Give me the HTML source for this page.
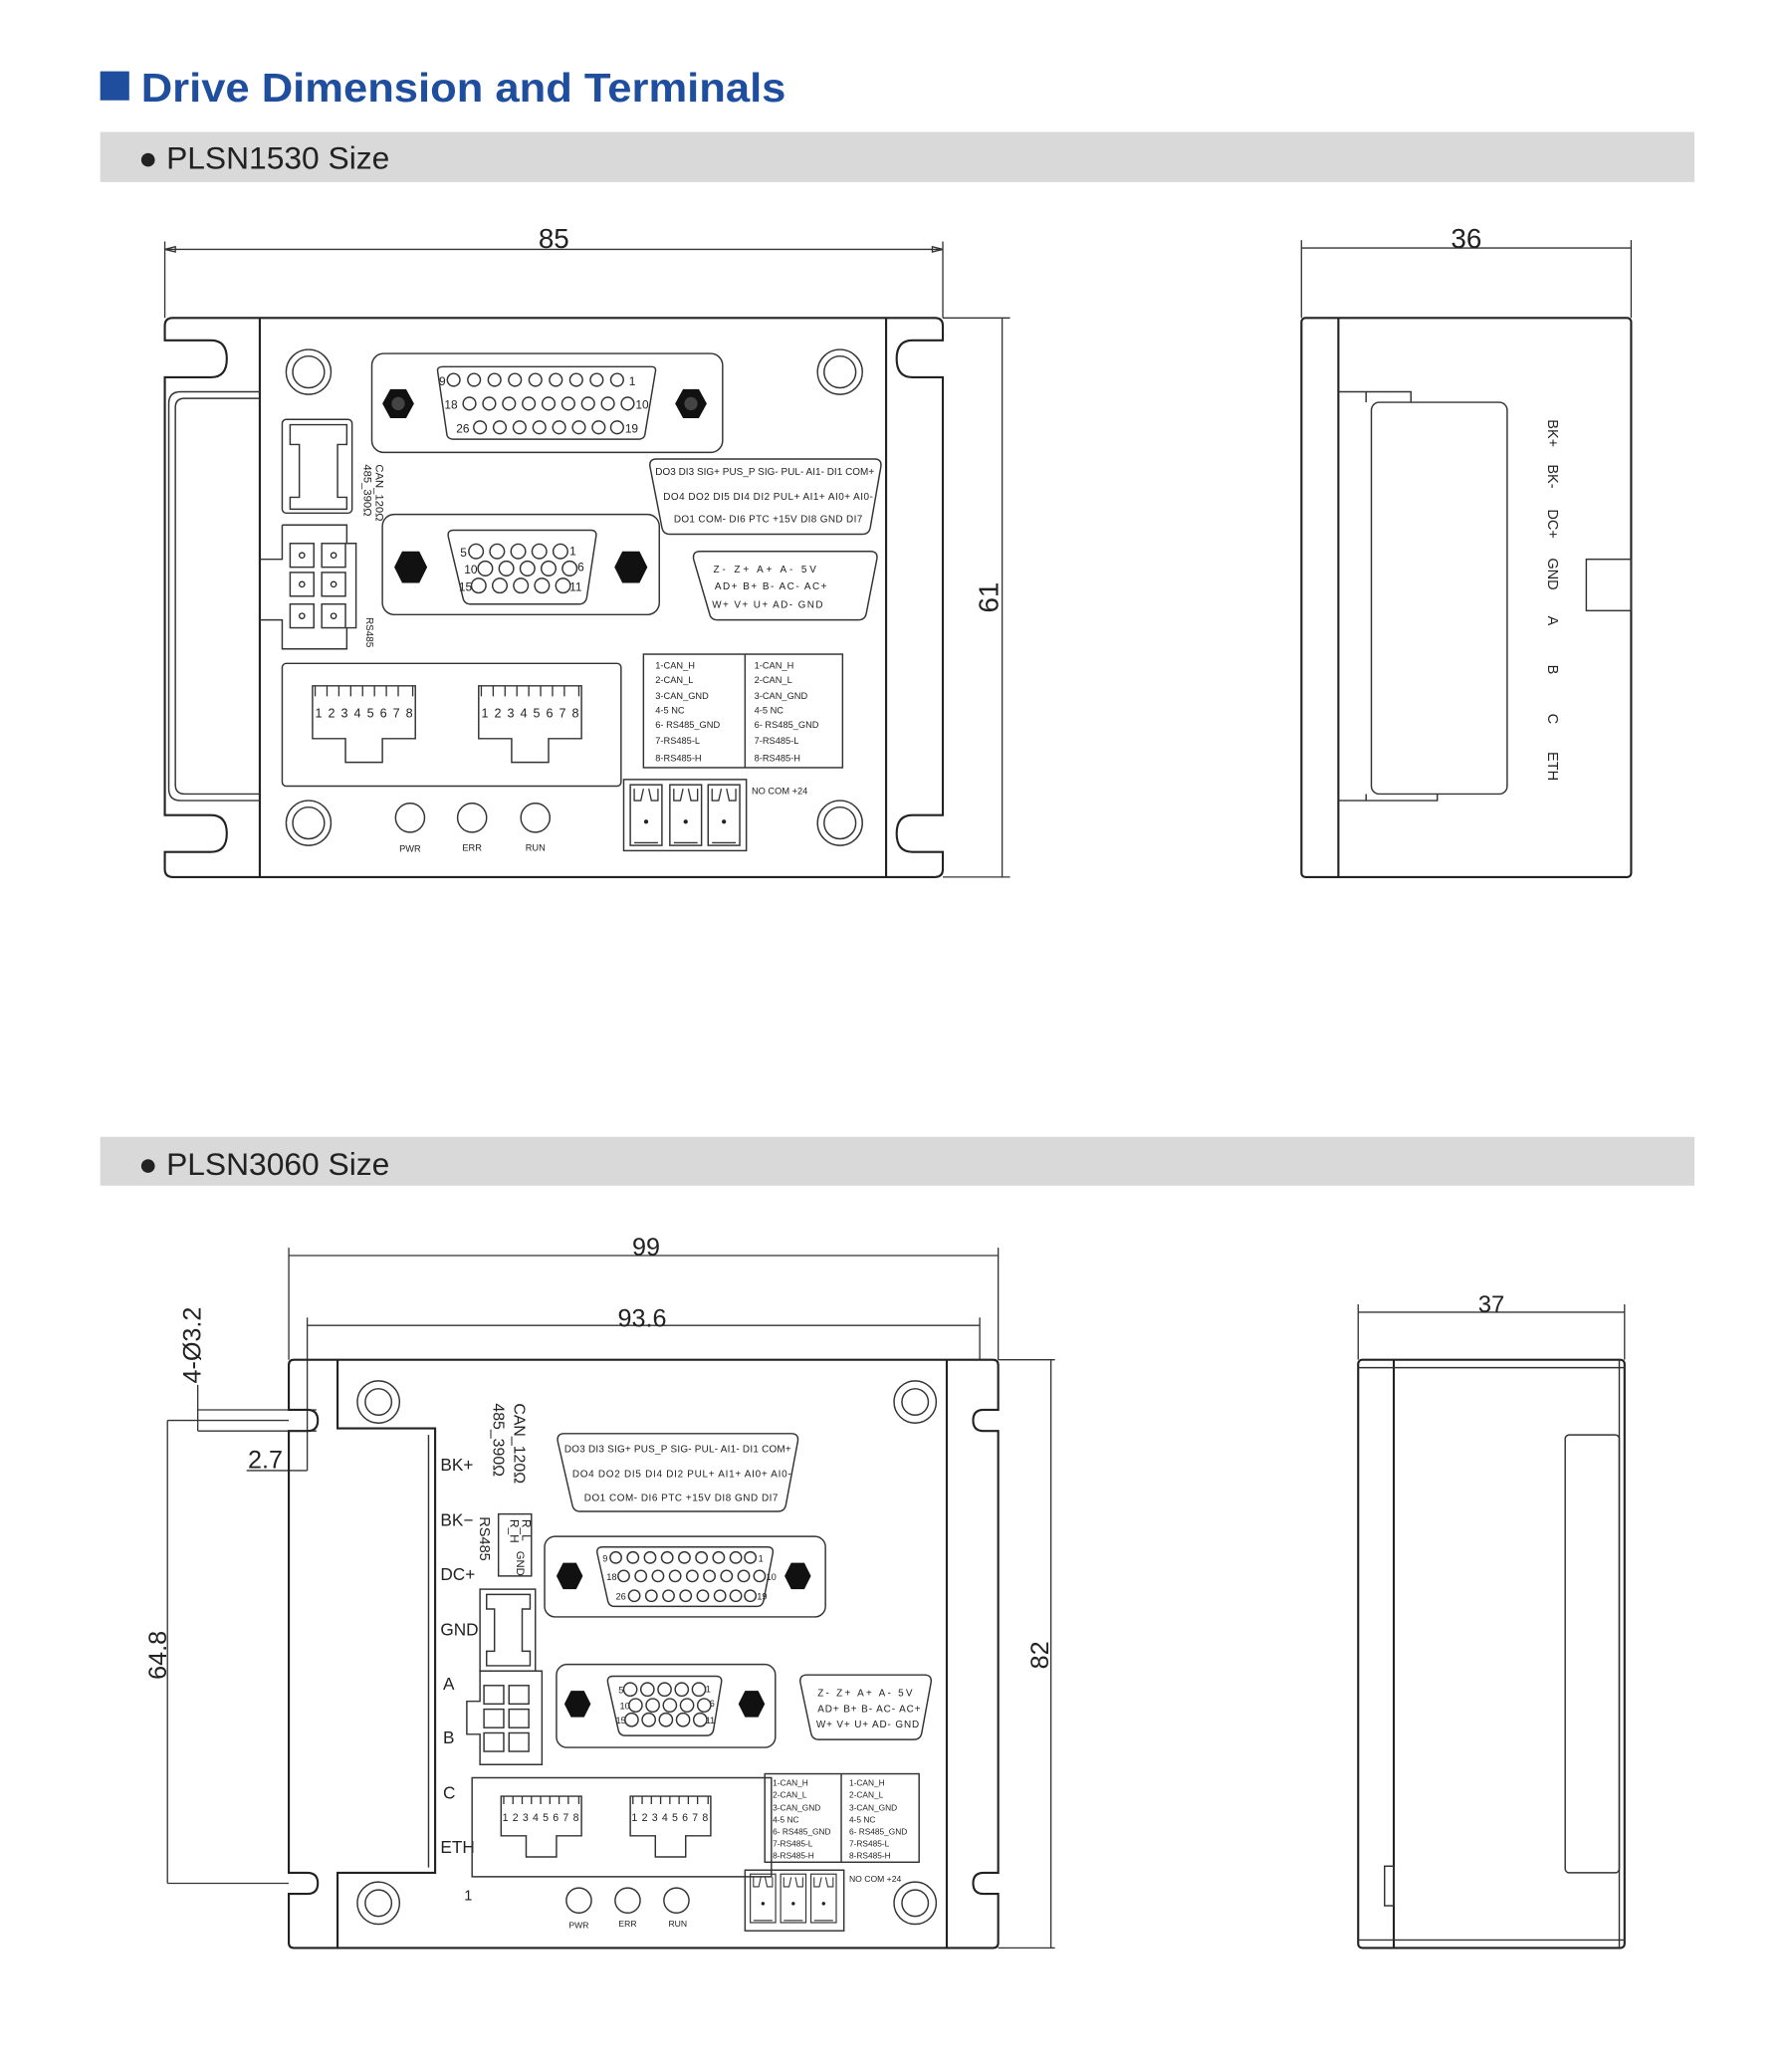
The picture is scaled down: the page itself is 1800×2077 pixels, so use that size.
<!DOCTYPE html>
<html><head><meta charset="utf-8"><style>
html,body{margin:0;padding:0;background:#fff;}
svg{display:block;}
text{font-family:"Liberation Sans",Arial,sans-serif;fill:#222;}
.s{fill:none;stroke:#222;stroke-width:1.6;}
.t{fill:none;stroke:#333;stroke-width:1.1;}
.d{fill:none;stroke:#333;stroke-width:1;}
.sm{font-size:7.5px;}
.lb{font-size:8.5px;}
</style></head><body>
<svg width="1800" height="2077" viewBox="0 0 1359 1568" xmlns="http://www.w3.org/2000/svg">
<defs>
<g id="rj">
<path class="t" d="M0 0H78V40H53V58H25V40H0Z"/>
<path class="d" d="M2 0V8M11 0V8M20 0V8M29 0V8M38 0V8M47 0V8M56 0V8M65 0V8M76 0V8"/>
</g>
<g id="rj2">
<path class="t" d="M0 0H61V30H42V46H19V30H0Z"/>
<path class="d" d="M2 0V6M9 0V6M16 0V6M23 0V6M30 0V6M37 0V6M44 0V6M51 0V6M59 0V6"/>
</g>
<g id="plug">
<rect class="t" x="0" y="0" width="24" height="46"/>
<path class="d" d="M3 3V12H8L10 3M21 3V12H16L14 3M3 44H21"/>
<circle cx="12" cy="28" r="1.6" fill="#222"/>
</g>
<g id="mh"><circle class="t" r="17"/><circle class="t" r="12"/></g>
<g id="mh2"><circle class="t" r="16"/><circle class="t" r="10"/></g>
</defs>

<!-- Title -->
<rect x="76" y="54" width="22" height="22" fill="#1f4e9e"/>
<text x="107" y="77" textLength="489" lengthAdjust="spacingAndGlyphs" style="font-size:31px;font-weight:bold;fill:#1f4e9e">Drive Dimension and Terminals</text>
<rect x="76" y="100" width="1209" height="38" fill="#d9d9d9"/>
<text x="105" y="128" style="font-size:24px">● PLSN1530 Size</text>
<rect x="76" y="862" width="1209" height="37" fill="#d9d9d9"/>
<text x="105" y="891" style="font-size:24px">● PLSN3060 Size</text>

<!-- ===== Drawing 1 front ===== -->
<path class="d" d="M125 183V241M715 183V241M125 189H715"/>
<path class="d" d="M125 189l8-2v4zM715 189l-8-2v4z" fill="#333"/>
<text x="420" y="188" style="font-size:21px" text-anchor="middle">85</text>
<path class="d" d="M715 241H766M715 665H766M760 241V665"/>
<text x="0" y="0" style="font-size:21px" text-anchor="middle" transform="translate(757 453) rotate(-90)">61</text>

<path class="s" d="M131 241H709q6 0 6 6V258H692q-12 0-12 14q0 14 12 14H715V618H692q-12 0-12 14q0 14 12 14H715V659q0 6-6 6H131q-6 0-6-6V646H160q12 0 12-14q0-14-12-14H125V286H160q12 0 12-14q0-14-12-14H125V247q0-6 6-6Z"/>
<path class="s" d="M197 241V665M672 241V665"/>
<path class="t" d="M197 297H137q-9 0-9 9V598q0 9 9 9H197M197 302H140q-7 0-7 7V595q0 7 7 7H197"/>
<use href="#mh" x="234" y="282"/><use href="#mh" x="637" y="282"/>
<use href="#mh" x="234" y="624"/><use href="#mh" x="637" y="624"/>

<!-- DB26 -->
<rect class="t" x="282" y="268" width="266" height="75" rx="9"/>
<path class="t" d="M336 278H494q4 0 3 4L489 330q-1 3-5 3H344q-4 0-5-3L332 282q-1-4 4-4Z"/>
<polygon points="290,306 296,295 308,295 314,306 308,317 296,317" fill="#111"/>
<polygon points="512,306 518,295 530,295 536,306 530,317 518,317" fill="#111"/>
<circle cx="302" cy="306" r="5" fill="#444"/><circle cx="524" cy="306" r="5" fill="#444"/>
<g class="t">
<circle cx="344" cy="288" r="4.8"/><circle cx="359.5" cy="288" r="4.8"/><circle cx="375" cy="288" r="4.8"/><circle cx="390.5" cy="288" r="4.8"/><circle cx="406" cy="288" r="4.8"/><circle cx="421.5" cy="288" r="4.8"/><circle cx="437" cy="288" r="4.8"/><circle cx="452.5" cy="288" r="4.8"/><circle cx="468" cy="288" r="4.8"/>
<circle cx="356" cy="306" r="4.8"/><circle cx="371" cy="306" r="4.8"/><circle cx="386" cy="306" r="4.8"/><circle cx="401" cy="306" r="4.8"/><circle cx="416" cy="306" r="4.8"/><circle cx="431" cy="306" r="4.8"/><circle cx="446" cy="306" r="4.8"/><circle cx="461" cy="306" r="4.8"/><circle cx="476" cy="306" r="4.8"/>
<circle cx="364" cy="324" r="4.8"/><circle cx="379" cy="324" r="4.8"/><circle cx="394" cy="324" r="4.8"/><circle cx="409" cy="324" r="4.8"/><circle cx="424" cy="324" r="4.8"/><circle cx="439" cy="324" r="4.8"/><circle cx="454" cy="324" r="4.8"/><circle cx="468" cy="324" r="4.8"/>
</g>
<g style="font-size:9px"><text x="333" y="292">9</text><text x="477" y="292">1</text><text x="337" y="310">18</text><text x="482" y="310">10</text><text x="346" y="328">26</text><text x="474" y="328">19</text></g>

<!-- IO label trapezoid -->
<path class="t" d="M498 348H663q6 0 5 6L660 400q-1 5-6 5H508q-5 0-6-5L493 354q-1-6 5-6Z"/>
<g class="sm"><text x="497" y="360" textLength="166">DO3 DI3  SIG+ PUS_P SIG-  PUL-  AI1-  DI1  COM+</text>
<text x="503" y="379" textLength="159">DO4  DO2  DI5   DI4  DI2  PUL+  AI1+  AI0+  AI0-</text>
<text x="511" y="396" textLength="143">DO1  COM-  DI6  PTC  +15V   DI8  GND  DI7</text></g>

<!-- CAN switch & RS485 -->
<rect class="t" x="214" y="318" width="53" height="71" rx="3"/>
<path class="t" d="M220 322H263V337H256V377H263V386H220V377H227V337H220Z"/>
<text class="lb" transform="translate(285 352) rotate(90)">CAN_120Ω</text>
<text class="lb" transform="translate(276 352) rotate(90)">485_390Ω</text>
<path class="t" d="M214 398H263V412H270V476H263V492H214V470H197M197 424H214V398"/>
<g class="t"><rect x="220" y="412" width="18" height="18"/><rect x="244" y="412" width="18" height="18"/><rect x="220" y="434" width="18" height="18"/><rect x="244" y="434" width="18" height="18"/><rect x="220" y="458" width="18" height="18"/><rect x="244" y="458" width="18" height="18"/></g>
<g fill="none" stroke="#222" stroke-width="1"><circle cx="229" cy="421" r="2"/><circle cx="253" cy="421" r="2"/><circle cx="229" cy="443" r="2"/><circle cx="253" cy="443" r="2"/><circle cx="229" cy="467" r="2"/><circle cx="253" cy="467" r="2"/></g>
<text class="sm" transform="translate(278 468) rotate(90)">RS485</text>

<!-- DB15 -->
<rect class="t" x="290" y="390" width="210" height="76" rx="9"/>
<path class="t" d="M344 402H448q5 0 4 5L445 453q-1 5-6 5H357q-5 0-6-5L340 407q-1-5 4-5Z"/>
<polygon points="299,430 305,418 318,418 324,430 318,442 305,442" fill="#111"/>
<polygon points="466,430 472,418 485,418 491,430 485,442 472,442" fill="#111"/>
<g class="t">
<circle cx="361" cy="418" r="5.5"/><circle cx="377" cy="418" r="5.5"/><circle cx="393" cy="418" r="5.5"/><circle cx="409" cy="418" r="5.5"/><circle cx="425" cy="418" r="5.5"/>
<circle cx="368" cy="431" r="5.5"/><circle cx="384" cy="431" r="5.5"/><circle cx="400" cy="431" r="5.5"/><circle cx="416" cy="431" r="5.5"/><circle cx="432" cy="431" r="5.5"/>
<circle cx="363" cy="444" r="5.5"/><circle cx="379" cy="444" r="5.5"/><circle cx="395" cy="444" r="5.5"/><circle cx="411" cy="444" r="5.5"/><circle cx="427" cy="444" r="5.5"/>
</g>
<g style="font-size:9px"><text x="349" y="422">5</text><text x="432" y="421">1</text><text x="352" y="435">10</text><text x="438" y="433">6</text><text x="348" y="448">15</text><text x="432" y="448">11</text></g>

<!-- encoder label -->
<path class="t" d="M531 418H660q6 0 5 6L657 465q-1 5-6 5H544q-5 0-6-5L526 424q-1-6 5-6Z"/>
<g class="sm"><text x="541" y="434" textLength="78">Z-   Z+   A+    A-   5V</text>
<text x="542" y="447" textLength="85">AD+  B+   B-   AC-   AC+</text>
<text x="540" y="461" textLength="84">W+  V+  U+  AD-  GND</text></g>

<!-- Ethernet -->
<rect class="t" x="214" y="503" width="257" height="93" rx="3"/>
<use href="#rj" x="237" y="520"/><use href="#rj" x="363" y="520"/>
<text x="239" y="544" style="font-size:9.5px" textLength="74">1 2 3 4 5 6 7 8</text>
<text x="365" y="544" style="font-size:9.5px" textLength="74">1 2 3 4 5 6 7 8</text>
<!-- table -->
<rect class="t" x="488" y="496" width="151" height="86"/>
<path class="t" d="M565 496V582"/>
<g style="font-size:7px">
<text x="497" y="507">1-CAN_H</text><text x="497" y="518">2-CAN_L</text><text x="497" y="530">3-CAN_GND</text><text x="497" y="541">4-5 NC</text><text x="497" y="552">6- RS485_GND</text><text x="497" y="564">7-RS485-L</text><text x="497" y="577">8-RS485-H</text>
<text x="572" y="507">1-CAN_H</text><text x="572" y="518">2-CAN_L</text><text x="572" y="530">3-CAN_GND</text><text x="572" y="541">4-5 NC</text><text x="572" y="552">6- RS485_GND</text><text x="572" y="564">7-RS485-L</text><text x="572" y="577">8-RS485-H</text>
</g>
<!-- terminal block -->
<rect class="t" x="473" y="591" width="93" height="54"/>
<use href="#plug" x="478" y="595"/><use href="#plug" x="508" y="595"/><use href="#plug" x="537" y="595"/>
<text x="570" y="602" style="font-size:7px">NO  COM  +24</text>
<!-- LEDs -->
<circle class="t" cx="311" cy="620" r="11"/><circle class="t" cx="358" cy="620" r="11"/><circle class="t" cx="406" cy="620" r="11"/>
<g style="font-size:7px" text-anchor="middle"><text x="311" y="646">PWR</text><text x="358" y="645">ERR</text><text x="406" y="645">RUN</text></g>

<!-- ===== Drawing 1 side ===== -->
<path class="d" d="M987 182V241M1237 182V241M987 188H1237"/>
<text x="1112" y="188" style="font-size:21px" text-anchor="middle">36</text>
<rect class="s" x="987" y="241" width="250" height="424" rx="3"/>
<path class="s" d="M1015 241V665"/>
<path class="t" d="M1015 297H1070V305M1015 607H1090V602M1036 297V305M1036 602V607"/>
<rect class="t" x="1040" y="305" width="103" height="297" rx="6"/>
<rect class="t" x="1203" y="424" width="34" height="39"/>
<g style="font-size:11px">
<text transform="translate(1174 318) rotate(90)">BK+</text>
<text transform="translate(1174 352) rotate(90)">BK-</text>
<text transform="translate(1174 386) rotate(90)">DC+</text>
<text transform="translate(1174 423) rotate(90)">GND</text>
<text transform="translate(1174 467) rotate(90)">A</text>
<text transform="translate(1174 504) rotate(90)">B</text>
<text transform="translate(1174 541) rotate(90)">C</text>
<text transform="translate(1174 570) rotate(90)">ETH</text>
</g>

<!-- ===== Drawing 2 front ===== -->
<path class="d" d="M219 946V1031M757 946V1031M219 952H757"/>
<text x="490" y="952" style="font-size:19px" text-anchor="middle">99</text>
<path class="d" d="M233 999V1115M743 999V1031M233 1005H743"/>
<text x="487" y="1006" style="font-size:19px" text-anchor="middle">93.6</text>
<text style="font-size:19px" text-anchor="middle" transform="translate(152 1020) rotate(-90)">4-Ø3.2</text>
<path class="d" d="M150 1069H240M150 1085H240M150 1050V1085M187 1115H233M127 1077H219M127 1428H219M127 1077V1428"/>
<text x="188" y="1113" style="font-size:19px">2.7</text>
<text style="font-size:19px" text-anchor="middle" transform="translate(126 1255) rotate(-90)">64.8</text>
<path class="d" d="M757 1031H800M757 1477H800M797 1031V1477"/>
<text style="font-size:19px" text-anchor="middle" transform="translate(795 1255) rotate(-90)">82</text>

<path class="s" d="M223 1031H753q4 0 4 4V1069H746q-8 0-8 8q0 8 8 8H757V1420H746q-8 0-8 8q0 8 8 8H757V1473q0 4-4 4H223q-4 0-4-4V1436H233q8 0 8-8q0-8-8-8H219V1085H233q8 0 8-8q0-8-8-8H219V1035q0-4 4-4Z"/>
<path class="s" d="M256 1031V1083H330V1420H256V1477M718 1031V1477"/>
<path class="t" d="M325 1088V1416"/>
<use href="#mh2" x="287" y="1063"/><use href="#mh2" x="694" y="1063"/>
<use href="#mh2" x="287" y="1443"/><use href="#mh2" x="694" y="1443"/>

<g style="font-size:13px">
<text x="334" y="1115">BK+</text><text x="334" y="1157">BK−</text><text x="334" y="1198">DC+</text><text x="334" y="1240">GND</text>
<text x="336" y="1281">A</text><text x="336" y="1322">B</text><text x="336" y="1364">C</text><text x="334" y="1405">ETH</text>
<text x="352" y="1441" style="font-size:11px">1</text>
</g>
<text style="font-size:12px" transform="translate(390 1064) rotate(90)">CAN_120Ω</text>
<text style="font-size:12px" transform="translate(374 1064) rotate(90)">485_390Ω</text>
<rect class="t" x="378" y="1148" width="25" height="47"/>
<text style="font-size:9px" transform="translate(387 1152) rotate(90)">R_H</text>
<text style="font-size:9px" transform="translate(396 1152) rotate(90)">R_L</text>
<text style="font-size:8.5px" transform="translate(392 1176) rotate(90)">GND</text>
<text style="font-size:11px" transform="translate(364 1150) rotate(90)">RS485</text>
<rect class="t" x="364" y="1205" width="42" height="62"/>
<path class="t" d="M369 1209H402V1220H396V1252H402V1263H369V1252H375V1220H369Z"/>
<path class="t" d="M364 1267H411V1338H364V1315H354V1290H364Z"/>
<g class="t"><rect x="367" y="1278" width="15" height="14"/><rect x="386" y="1278" width="15" height="14"/><rect x="367" y="1296" width="15" height="14"/><rect x="386" y="1296" width="15" height="14"/><rect x="367" y="1314" width="15" height="14"/><rect x="386" y="1314" width="15" height="14"/></g>

<!-- IO label 2 -->
<path class="t" d="M428 1087H600q6 0 5 6L596 1141q-1 5-6 5H440q-5 0-6-5L423 1093q-1-6 5-6Z"/>
<g class="sm"><text x="428" y="1101" textLength="172">DO3 DI3  SIG+ PUS_P SIG-  PUL-  AI1-  DI1  COM+</text>
<text x="434" y="1120" textLength="166">DO4  DO2  DI5   DI4  DI2  PUL+  AI1+  AI0+  AI0-</text>
<text x="443" y="1138" textLength="147">DO1  COM-  DI6  PTC  +15V   DI8  GND  DI7</text></g>

<!-- DB26 2 -->
<rect class="t" x="413" y="1165" width="213" height="61" rx="8"/>
<path class="t" d="M457 1173H582q5 0 4 5L579 1214q-1 4-5 4H466q-4 0-5-4L453 1178q-1-5 4-5Z"/>
<polygon points="422,1195 427,1185 437,1185 442,1195 437,1205 427,1205" fill="#111"/>
<polygon points="595,1195 600,1185 610,1185 615,1195 610,1205 600,1205" fill="#111"/>
<g class="t">
<circle cx="467" cy="1181" r="4.3"/><circle cx="480" cy="1181" r="4.3"/><circle cx="493" cy="1181" r="4.3"/><circle cx="506" cy="1181" r="4.3"/><circle cx="519" cy="1181" r="4.3"/><circle cx="532" cy="1181" r="4.3"/><circle cx="545" cy="1181" r="4.3"/><circle cx="558" cy="1181" r="4.3"/><circle cx="569" cy="1181" r="4.3"/>
<circle cx="473" cy="1195" r="4.3"/><circle cx="486" cy="1195" r="4.3"/><circle cx="499" cy="1195" r="4.3"/><circle cx="512" cy="1195" r="4.3"/><circle cx="525" cy="1195" r="4.3"/><circle cx="538" cy="1195" r="4.3"/><circle cx="551" cy="1195" r="4.3"/><circle cx="564" cy="1195" r="4.3"/><circle cx="576" cy="1195" r="4.3"/>
<circle cx="481" cy="1210" r="4.3"/><circle cx="494" cy="1210" r="4.3"/><circle cx="507" cy="1210" r="4.3"/><circle cx="520" cy="1210" r="4.3"/><circle cx="533" cy="1210" r="4.3"/><circle cx="546" cy="1210" r="4.3"/><circle cx="558" cy="1210" r="4.3"/><circle cx="569" cy="1210" r="4.3"/>
</g>
<g style="font-size:7px"><text x="457" y="1184">9</text><text x="575" y="1184">1</text><text x="460" y="1198">18</text><text x="581" y="1198">10</text><text x="467" y="1213">26</text><text x="574" y="1213">19</text></g>

<!-- DB15 2 -->
<rect class="t" x="422" y="1262" width="166" height="63" rx="8"/>
<path class="t" d="M465 1271H543q5 0 4 5L541 1312q-1 4-5 4H474q-4 0-5-4L461 1276q-1-5 4-5Z"/>
<polygon points="428,1292 433,1282 443,1282 448,1292 443,1302 433,1302" fill="#111"/>
<polygon points="560,1292 565,1282 575,1282 580,1292 575,1302 565,1302" fill="#111"/>
<g class="t">
<circle cx="478" cy="1281" r="5"/><circle cx="491" cy="1281" r="5"/><circle cx="504" cy="1281" r="5"/><circle cx="517" cy="1281" r="5"/><circle cx="530" cy="1281" r="5"/>
<circle cx="482" cy="1293" r="5"/><circle cx="495" cy="1293" r="5"/><circle cx="508" cy="1293" r="5"/><circle cx="521" cy="1293" r="5"/><circle cx="534" cy="1293" r="5"/>
<circle cx="479" cy="1304" r="5"/><circle cx="492" cy="1304" r="5"/><circle cx="505" cy="1304" r="5"/><circle cx="518" cy="1304" r="5"/><circle cx="531" cy="1304" r="5"/>
</g>
<g style="font-size:7px"><text x="469" y="1284">5</text><text x="535" y="1283">1</text><text x="470" y="1296">10</text><text x="538" y="1294">6</text><text x="467" y="1307">15</text><text x="535" y="1307">11</text></g>

<path class="t" d="M612 1270H701q6 0 5 6L699 1314q-1 5-6 5H621q-5 0-6-5L607 1276q-1-6 5-6Z"/>
<g class="sm"><text x="620" y="1286" textLength="72">Z-   Z+  A+    A-   5V</text>
<text x="620" y="1298" textLength="78">AD+ B+  B-   AC-  AC+</text>
<text x="619" y="1310" textLength="78">W+ V+ U+  AD-  GND</text></g>

<!-- Ethernet 2 -->
<path class="t" d="M358 1348H585V1423H358Z"/>
<use href="#rj2" x="380" y="1362"/><use href="#rj2" x="478" y="1362"/>
<text x="381" y="1381" style="font-size:8px" textLength="58">1 2 3 4 5 6 7 8</text>
<text x="479" y="1381" style="font-size:8px" textLength="58">1 2 3 4 5 6 7 8</text>
<rect class="t" x="580" y="1345" width="117" height="67"/>
<path class="t" d="M638 1345V1412"/>
<g style="font-size:6.3px">
<text x="586" y="1354">1-CAN_H</text><text x="586" y="1363">2-CAN_L</text><text x="586" y="1373">3-CAN_GND</text><text x="586" y="1382">4-5 NC</text><text x="586" y="1391">6- RS485_GND</text><text x="586" y="1400">7-RS485-L</text><text x="586" y="1409">8-RS485-H</text>
<text x="644" y="1354">1-CAN_H</text><text x="644" y="1363">2-CAN_L</text><text x="644" y="1373">3-CAN_GND</text><text x="644" y="1382">4-5 NC</text><text x="644" y="1391">6- RS485_GND</text><text x="644" y="1400">7-RS485-L</text><text x="644" y="1409">8-RS485-H</text>
</g>
<rect class="t" x="565" y="1418" width="75" height="46"/>
<g transform="translate(569 1421) scale(0.8)"><use href="#plug"/></g>
<g transform="translate(592 1421) scale(0.8)"><use href="#plug"/></g>
<g transform="translate(615 1421) scale(0.8)"><use href="#plug"/></g>
<text x="644" y="1427" style="font-size:6.5px">NO  COM  +24</text>
<circle class="t" cx="439" cy="1441" r="9.5"/><circle class="t" cx="476" cy="1441" r="9.5"/><circle class="t" cx="513" cy="1441" r="9.5"/>
<g style="font-size:6.5px" text-anchor="middle"><text x="439" y="1462">PWR</text><text x="476" y="1461">ERR</text><text x="514" y="1461">RUN</text></g>

<!-- ===== Drawing 2 side ===== -->
<path class="d" d="M1030 989V1031M1232 989V1031M1030 995H1232"/>
<text x="1131" y="995" style="font-size:18px" text-anchor="middle">37</text>
<rect class="s" x="1030" y="1031" width="202" height="446" rx="3"/>
<path class="s" d="M1057 1031V1477"/>
<path class="t" d="M1030 1037H1232M1030 1471H1232M1228 1031V1477"/>
<rect class="t" x="1187" y="1088" width="41" height="332" rx="3"/>
<rect class="t" x="1050" y="1415" width="7" height="30"/>
</svg>
</body></html>
